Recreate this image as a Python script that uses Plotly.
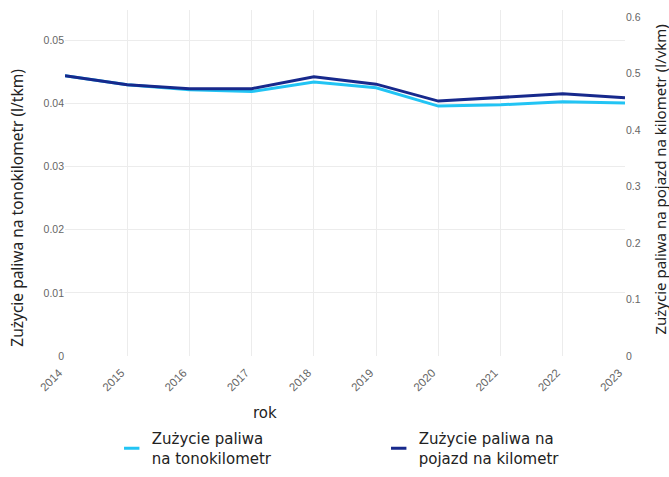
import plotly.graph_objects as go

years = [2014, 2015, 2016, 2017, 2018, 2019, 2020, 2021, 2022, 2023]
tkm = [0.0444, 0.0430, 0.0422, 0.0419, 0.0434, 0.0425, 0.0396, 0.0398, 0.0403, 0.0401]
vkm = [0.496, 0.480, 0.473, 0.473, 0.494, 0.481, 0.451, 0.458, 0.464, 0.457]
name_tkm = "Zużycie paliwa<br>na tonokilometr"
name_vkm = "Zużycie paliwa na<br>pojazd na kilometr"
left_ticks = [0, 0.01, 0.02, 0.03, 0.04, 0.05]
right_ticks = [0, 0.1, 0.2, 0.3, 0.4, 0.5, 0.6]

c_light = "#22c4f4"
c_dark = "#17298c"
tick_font = dict(family="Liberation Sans, Arial", size=10.5, color="#666")
xtick_font = dict(family="Liberation Sans, Arial", size=11.5, color="#666")
label_font = dict(family="DejaVu Sans", size=15, color="#222")

fig = go.Figure()
fig.add_trace(go.Scatter(x=years, y=tkm, mode="lines", line=dict(color=c_light, width=3),
                         showlegend=False, yaxis="y"))
fig.add_trace(go.Scatter(x=years, y=vkm, mode="lines", line=dict(color=c_dark, width=3),
                         showlegend=False, yaxis="y2"))
# legend entries
fig.add_trace(go.Scatter(x=[None], y=[None], mode="markers", name=name_tkm,
                         marker=dict(symbol="line-ew-open", size=11, color=c_light,
                                     line=dict(width=3, color=c_light))))
fig.add_trace(go.Scatter(x=[None], y=[None], mode="markers", name=name_vkm,
                         marker=dict(symbol="line-ew-open", size=11, color=c_dark,
                                     line=dict(width=3, color=c_dark))))

fig.update_layout(
    width=669, height=477,
    margin=dict(l=65, r=44, t=10, b=120.5),
    paper_bgcolor="white", plot_bgcolor="white",
    xaxis=dict(range=[2014, 2023], tickvals=years, tickangle=-45, tickfont=xtick_font, automargin=False,
               ticklabelshift=-6, ticklabelstandoff=7,
               showgrid=True, gridcolor="#ececec", zeroline=False, showline=False, ticks=""),
    yaxis=dict(range=[0, 0.05483], tickvals=left_ticks, ticktext=["0", "0.01", "0.02", "0.03", "0.04", "0.05"],
               tickfont=tick_font, showgrid=True, gridcolor="#ececec", zeroline=False, ticks="",
               automargin=False),
    yaxis2=dict(range=[0, 0.6122], tickvals=right_ticks, ticktext=["0", "0.1", "0.2", "0.3", "0.4", "0.5", "0.6"],
                tickfont=tick_font, overlaying="y", side="right", showgrid=False, zeroline=False, ticks="",
                automargin=False),
    legend=dict(orientation="h", xref="container", yref="container", x=0.167, y=0.115,
                xanchor="left", yanchor="top", entrywidth=222, entrywidthmode="pixels",
                font=label_font, itemwidth=30),
    annotations=[
        dict(text="Zużycie paliwa na tonokilometr (l/tkm)", xref="paper", yref="paper",
             x=(17 - 65) / 560, y=0.4286, xanchor="center", yanchor="middle", textangle=-90, showarrow=False,
             font=dict(family="Noto Sans", size=15.5, color="#222")),
        dict(text="Zużycie paliwa na pojazd na kilometr (l/vkm)", xref="paper", yref="paper",
             x=(660 - 65) / 560, y=0.51, xanchor="center", yanchor="middle", textangle=-90, showarrow=False,
             font=dict(family="Noto Sans", size=15, color="#222")),
        dict(text="rok", xref="paper", yref="paper", x=(265 - 65) / 560, y=-0.165,
             xanchor="center", yanchor="middle", showarrow=False, font=label_font),
    ],
)
fig.write_html("out.html", post_script="document.body.style.margin='0';",
               config={"displayModeBar": False})
